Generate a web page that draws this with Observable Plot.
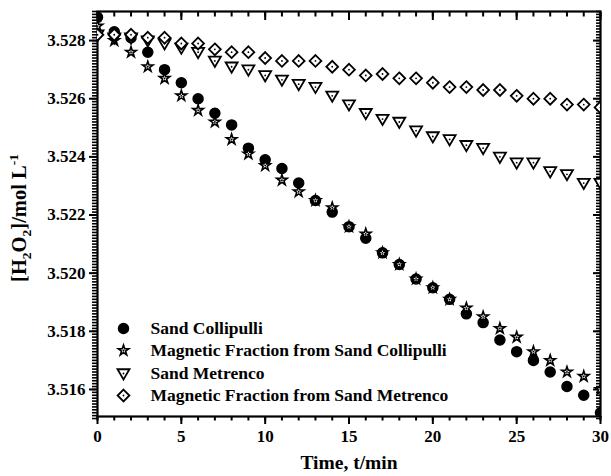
<!DOCTYPE html>
<html>
<head>
<meta charset="utf-8">
<script src="https://cdn.jsdelivr.net/npm/d3@7"></script>
<script src="https://cdn.jsdelivr.net/npm/@observablehq/plot@0.6"></script>
<style>
  html, body { margin: 0; padding: 0; background: #fff; }
  #chart { width: 611px; height: 476px; }
</style>
</head>
<body>
<div id="chart"></div>
<script>
// ---- data ----
const time = [0,1,2,3,4,5,6,7,8,9,10,11,12,13,14,15,16,17,18,19,20,21,22,23,24,25,26,27,28,29,30];
const sandCollipulli = [3.5288,3.5283,3.5281,3.5276,3.5270,3.52655,3.5260,3.5255,3.5251,3.5243,3.5239,3.5236,3.5231,3.5225,3.5221,3.5216,3.5212,3.5207,3.5203,3.5198,3.5195,3.5191,3.5186,3.5183,3.5177,3.5173,3.5170,3.5166,3.5161,3.5158,3.5152];
const magCollipulli = [3.5285,3.5280,3.5276,3.5271,3.5267,3.5261,3.5256,3.5252,3.5246,3.5241,3.5237,3.5232,3.5228,3.5225,3.52225,3.5216,3.52135,3.5207,3.5203,3.5198,3.5195,3.5191,3.5188,3.5185,3.5181,3.5178,3.5173,3.5170,3.5166,3.51645,3.5160];
const sandMetrenco = [3.5282,3.5281,3.5281,3.5280,3.5279,3.52775,3.5276,3.5273,3.5271,3.5270,3.5268,3.52665,3.5265,3.5264,3.5261,3.5258,3.5255,3.5253,3.5252,3.5249,3.5247,3.5246,3.5244,3.5243,3.5240,3.5238,3.5238,3.5235,3.5234,3.5231,3.5231];
const magMetrenco = [3.5282,3.5282,3.5282,3.5281,3.5281,3.5279,3.5279,3.5277,3.5276,3.5276,3.5274,3.5273,3.5273,3.5273,3.5271,3.5270,3.5268,3.52685,3.5267,3.5267,3.52655,3.5264,3.5264,3.5263,3.5263,3.5261,3.5260,3.5260,3.5258,3.5258,3.5257];
const seriesNames = ["Sand Collipulli","Magnetic Fraction from Sand Collipulli","Sand Metrenco","Magnetic Fraction from Sand Metrenco"];
const xTicks = [0,5,10,15,20,25,30];
const yTicks = [3.516,3.518,3.520,3.522,3.524,3.526,3.528];
const xLabel = "Time, t/min";

// ---- helpers ----
const rows = (vals) => time.map((t, i) => ({t, v: vals[i]}));
const dSC = rows(sandCollipulli), dMC = rows(magCollipulli), dSM = rows(sandMetrenco), dMM = rows(magMetrenco);
const xMinor = d3.range(0, 31, 1);
const yMinor = d3.range(0, 141).map(i => +(3.5150 + i * 0.0001).toFixed(4));

const triDown = {
  draw(ctx, size) {
    const r = Math.sqrt(size / Math.PI);
    ctx.moveTo(-1.2 * r, -0.85 * r);
    ctx.lineTo(1.2 * r, -0.85 * r);
    ctx.lineTo(0, 1.2 * r);
    ctx.closePath();
  }
};

const font = "'Liberation Serif', 'Times New Roman', serif";
const empty = () => "";

const styles = {
  circle: {symbol: "circle", r: 5, fill: "black", stroke: "black"},
  star: {symbol: "star", r: 3.3, fill: "white", stroke: "black", strokeWidth: 1.6},
  tri: {symbol: triDown, r: 5, fill: "white", stroke: "black", strokeWidth: 1.8},
  dia: {symbol: "diamond2", r: 5.3, fill: "white", stroke: "black", strokeWidth: 1.8}
};

function seriesMarks(data, st, centerDot) {
  const m = [Plot.dot(data, {x: "t", y: "v", ...st, clip: "frame"})];
  if (centerDot) m.push(Plot.dot(data, {x: "t", y: "v", r: 0.9, fill: "black", clip: "frame"}));
  return m;
}

function legendItem(i, st, centerDot) {
  const dy = [317, 339, 362, 384][i];
  const m = [Plot.dot([seriesNames[i]], {frameAnchor: "top-left", dx: 26, dy, ...st})];
  if (centerDot) m.push(Plot.dot([seriesNames[i]], {frameAnchor: "top-left", dx: 26, dy, r: 0.9, fill: "black"}));
  m.push(Plot.text([seriesNames[i]], {frameAnchor: "top-left", dx: 53, dy, text: d => d, textAnchor: "start", lineAnchor: "middle", fontSize: 17.5, fontWeight: "bold"}));
  return m;
}

const plot = Plot.plot({
  width: 611,
  height: 476,
  marginLeft: 97,
  marginRight: 11,
  marginTop: 11,
  marginBottom: 60,
  style: {fontFamily: font, fontSize: "17px", fontWeight: "bold", color: "black", background: "white"},
  x: {domain: [0, 30]},
  y: {domain: [3.51507, 3.529]},
  marks: [
    // axes
    Plot.axisX({anchor: "bottom", ticks: xTicks, tickSize: 8, tickPadding: 5, strokeWidth: 2, tickFormat: d => String(d), label: null, fontSize: 17}),
    Plot.axisX({anchor: "bottom", ticks: xMinor, tickSize: 4.5, strokeWidth: 2, tickFormat: empty, label: null}),
    Plot.axisX({anchor: "top", ticks: xTicks, tickSize: -8, strokeWidth: 2, tickFormat: empty, label: null}),
    Plot.axisX({anchor: "top", ticks: xMinor, tickSize: -4.5, strokeWidth: 2, tickFormat: empty, label: null}),
    Plot.axisY({anchor: "left", ticks: yTicks, tickSize: 8, tickPadding: 4, strokeWidth: 2, tickFormat: d3.format(".3f"), label: null, fontSize: 17}),
    Plot.axisY({anchor: "left", ticks: yMinor, tickSize: 5, strokeWidth: 1.6, tickFormat: empty, label: null}),
    Plot.axisY({anchor: "right", ticks: yTicks, tickSize: -8, strokeWidth: 2, tickFormat: empty, label: null}),
    Plot.axisY({anchor: "right", ticks: yMinor, tickSize: -5, strokeWidth: 1.6, tickFormat: empty, label: null}),
    Plot.frame({stroke: "black", strokeWidth: 2.2}),
    Plot.text([xLabel], {frameAnchor: "bottom", dy: 46, text: d => d, fontSize: 19.5, fontWeight: "bold", lineAnchor: "middle"}),
    // data
    ...seriesMarks(dSC, styles.circle, false),
    ...seriesMarks(dMC, styles.star, true),
    ...seriesMarks(dSM, styles.tri, true),
    ...seriesMarks(dMM, styles.dia, true),
    // legend
    ...legendItem(0, styles.circle, false),
    ...legendItem(1, styles.star, true),
    ...legendItem(2, styles.tri, true),
    ...legendItem(3, styles.dia, true)
  ]
});

// y-axis title with sub/superscripts
const svg = d3.select(plot.tagName === "svg" ? plot : plot.querySelector("svg"));
const yt = svg.append("text")
  .attr("transform", "translate(26,218) rotate(-90)")
  .attr("text-anchor", "middle")
  .attr("font-family", font)
  .attr("font-weight", "bold")
  .attr("font-size", 20.5)
  .attr("fill", "black");
yt.append("tspan").text("[H");
yt.append("tspan").attr("font-size", 13.5).attr("dy", 5).text("2");
yt.append("tspan").attr("dy", -5).text("O");
yt.append("tspan").attr("font-size", 13.5).attr("dy", 5).text("2");
yt.append("tspan").attr("dy", -5).text("]/mol L");
yt.append("tspan").attr("font-size", 13.5).attr("dy", -8).text("-1");

document.getElementById("chart").appendChild(plot);
</script>
</body>
</html>
